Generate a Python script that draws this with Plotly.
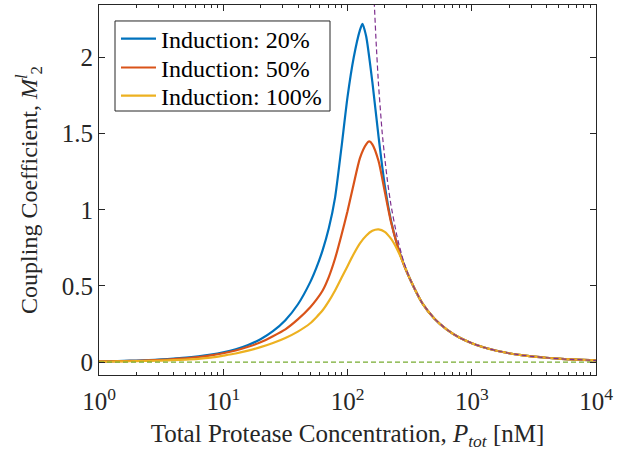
import plotly.graph_objects as go

# ---- data ----
# shared x positions (nM)
p_grid = [1, 1.259, 1.585, 1.995, 2.512, 3.162, 3.981, 5.012, 6.31, 7.943,
          10, 12.59, 15.85, 19.95, 25.12, 31.62, 39.81, 50.12, 56.23, 63.1,
          70.79, 79.43, 89.13, 100, 112.2, 125.9, 141.3, 158.5, 177.8, 199.5,
          223.9, 251.2, 281.8, 316.2, 398.1, 501.2, 631, 794.3, 1000, 1259,
          1585, 1995, 2512, 3162, 3981, 5012, 6310, 7943, 10000]

tail_y = [0.389, 0.285, 0.213, 0.161, 0.124, 0.0956, 0.0745, 0.058, 0.0455,
          0.0358, 0.0282, 0.0223, 0.0175, 0.0139, 0.011]

blue_x = p_grid[:26] + [131.8] + p_grid[26:]
blue_y = [0.0048, 0.0062, 0.008, 0.010, 0.013, 0.017, 0.023, 0.029, 0.038, 0.049,
          0.064, 0.084, 0.112, 0.150, 0.203, 0.275, 0.378, 0.525, 0.62, 0.735,
          0.88, 1.08, 1.40, 1.74, 2.0, 2.18, 2.222, 2.14, 1.84, 1.48, 1.16,
          0.93, 0.77, 0.65, 0.55] + tail_y

red_x = p_grid[:27] + [149.6] + p_grid[27:]
red_y = [0.004, 0.005, 0.0065, 0.0085, 0.011, 0.014, 0.019, 0.025, 0.033, 0.044,
         0.058, 0.076, 0.10, 0.13, 0.17, 0.215, 0.28, 0.36, 0.41, 0.47,
         0.56, 0.68, 0.83, 0.99, 1.17, 1.34, 1.43, 1.449, 1.43, 1.32, 1.12,
         0.92, 0.77, 0.645, 0.55] + tail_y

yellow_x = p_grid
yellow_y = [0.003, 0.0037, 0.0047, 0.006, 0.0077, 0.0098, 0.0125, 0.016, 0.021, 0.029,
            0.042, 0.056, 0.075, 0.098, 0.125, 0.158, 0.20, 0.255, 0.295, 0.34,
            0.40, 0.47, 0.55, 0.63, 0.71, 0.78, 0.83, 0.862, 0.871, 0.855, 0.81,
            0.74, 0.65, 0.55] + tail_y

asym_x = [163, 170, 177.8, 190, 199.5, 210, 223.9, 251.2, 281.8, 316.2] + p_grid[34:]
asym_y = [2.42, 2.10, 1.82, 1.51, 1.34, 1.185, 1.03, 0.82, 0.665, 0.55] + tail_y

zero_x = [1, 10000]
zero_y = [0, 0]

series_names = ["Induction: 20%", "Induction: 50%", "Induction: 100%"]
x_tick_vals = [1, 10, 100, 1000, 10000]
x_tick_text = ["10<sup>0</sup>", "10<sup>1</sup>", "10<sup>2</sup>", "10<sup>3</sup>", "10<sup>4</sup>"]
y_tick_vals = [0, 0.5, 1, 1.5, 2]
y_tick_text = ["0", "0.5", "1", "1.5", "2"]

FONT = "Liberation Serif, Times New Roman, serif"
AX = "#262626"
FS = 25
colors = ["#0072BD", "#D95319", "#EDB120"]
legend_ids = ["legend", "legend2", "legend3"]
legend_rows_y = [0.908, 0.830, 0.754]

fig = go.Figure()
for xs, ys, name, col, lg in zip([blue_x, red_x, yellow_x], [blue_y, red_y, yellow_y],
                                 series_names, colors, legend_ids):
    fig.add_trace(go.Scatter(x=xs, y=ys, mode="lines", name=name, legend=lg,
                             line=dict(color=col, width=2.2, shape="spline", smoothing=0.6)))

fig.add_trace(go.Scatter(x=asym_x, y=asym_y, mode="lines", showlegend=False,
                         line=dict(color="#7E2F8E", width=1.2, dash="5px,3px", shape="spline", smoothing=0.5)))
fig.add_trace(go.Scatter(x=zero_x, y=zero_y, mode="lines", showlegend=False,
                         line=dict(color="#77AC30", width=1.2, dash="5px,3px")))

minor_vals = [k * 10 ** d for d in range(4) for k in range(2, 10)]

# legend frame
fig.add_shape(type="rect", xref="paper", yref="paper", x0=0.0322, x1=0.4648, y0=0.7135, y1=0.9568,
              line=dict(color=AX, width=1), fillcolor="white", layer="above")

legend_common = dict(x=0.0342, xanchor="left", yanchor="middle", bgcolor="rgba(0,0,0,0)",
                     borderwidth=0, font=dict(family=FONT, size=24, color="black"),
                     itemwidth=35)
layout_legends = {lg: dict(legend_common, y=yy) for lg, yy in zip(legend_ids, legend_rows_y)}

fig.update_layout(
    width=632, height=456,
    margin=dict(l=99, r=36, t=5, b=81, autoexpand=False),
    paper_bgcolor="white", plot_bgcolor="white",
    font=dict(family=FONT, size=FS, color=AX),
    showlegend=True,
    xaxis=dict(type="log", range=[0, 4], tickvals=x_tick_vals, ticktext=x_tick_text,
               ticks="inside", ticklen=6, tickcolor=AX, showline=True, linecolor=AX, linewidth=1,
               mirror="ticks", showgrid=False, zeroline=False, automargin=False,
               ticklabelstandoff=4,
               minor=dict(tickvals=minor_vals, ticks="inside", ticklen=3, tickcolor=AX, showgrid=False),
               tickfont=dict(family=FONT, size=FS, color=AX),
               title=dict(text="Total Protease Concentration, <i>P</i><sub><i>tot</i></sub> [nM]",
                          font=dict(family=FONT, size=FS, color=AX), standoff=10)),
    yaxis=dict(range=[-0.085, 2.345], tickvals=y_tick_vals, ticktext=y_tick_text,
               ticks="inside", ticklen=6, tickcolor=AX, showline=True, linecolor=AX, linewidth=1,
               mirror="ticks", showgrid=False, zeroline=False, automargin=False,
               tickfont=dict(family=FONT, size=FS, color=AX),
               title=dict(text="Coupling Coefficient, <i>M</i><sup><i>l</i></sup><sub>2</sub>",
                          font=dict(family=FONT, size=24, color=AX), standoff=17)),
    **layout_legends,
)

fig.write_html("out.html", config={"displayModeBar": False},
               post_script="document.body.style.margin='0';")
